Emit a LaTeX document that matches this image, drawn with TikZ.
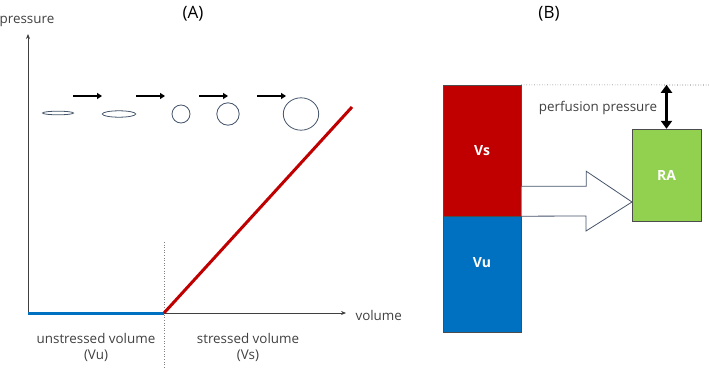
\documentclass[tikz,border=0pt]{standalone}
\usepackage{fontspec}
\setmainfont{Open Sans}
\usetikzlibrary{positioning, arrows.meta}
\definecolor{vsred}{HTML}{C00000}
\definecolor{vublue}{HTML}{0070C0}
\definecolor{ragreen}{HTML}{92D050}
\definecolor{slate}{HTML}{44546A}
\definecolor{textgray}{HTML}{404040}

\begin{document}
\begin{tikzpicture}[
  x=1pt, y=-1pt,
  font=\fontsize{13.4}{16}\selectfont, text=textgray,
  axis/.style={draw=textgray, line width=0.7pt, -{Stealth[length=5pt, width=4pt]}},
  vessel/.style={draw=slate, line width=0.8pt},
  flow/.style={-{Triangle[length=5pt, width=6pt]}, line width=1.7pt},
  curve/.style={draw=#1, line width=3pt},
  divider/.style={draw=gray, line width=0.6pt, dotted},
  block/.style={draw=gray!60!black, fill=#1, minimum width=78pt, inner sep=0pt,
                text=white, font=\fontsize{14}{16}\selectfont\bfseries},
  panel/.style={font=\fontsize{17}{20}\selectfont, text=black}
]
\useasboundingbox (0,0) rectangle (709,369);

% (A) pressure-volume relation
\node[panel] (titleA) at (193,14) {(A)};
\coordinate (origin) at (28,313);
\coordinate (knee) at (164,313);
\coordinate (ytop) at (28,34);
\coordinate (xend) at (346,313);
\coordinate (vend) at (352,107);
\draw[axis] (origin) -- (ytop);
\draw[axis] (origin) -- (xend);
\node[anchor=south] (plabel) at (27,30) {pressure};
\node[anchor=west] (vlabel) at (352,315) {volume};
\draw[divider] (164,242) -- (164,369);
\draw[curve=vublue] (origin) -- (knee);
\draw[curve=vsred] (knee) -- (vend);
\node[align=center] (unstressed) at (96,347) {unstressed volume\\(Vu)};
\node[align=center] (stressed) at (248,347) {stressed volume\\(Vs)};

% vessels filling up
\draw[vessel] (58,113) ellipse (15.5 and 1.8) coordinate (v1);
\draw[vessel] (119,114) ellipse (16.7 and 3.2) coordinate (v2);
\draw[vessel] (181,114) circle (9) coordinate (v3);
\draw[vessel] (228,114) circle (11.2) coordinate (v4);
\draw[vessel] (301,114) ellipse (17.7 and 16.2) coordinate (v5);
\foreach \xs in {73,136,199,257}
  \draw[flow] (\xs,96) -- ++(29,0);

% (B) reservoir model
\node[panel] (titleB) at (549,14) {(B)};
\node[block=vsred, minimum height=131pt] (Vs) at (482,150.5) {Vs};
\node[block=vublue, minimum height=116pt, below=0pt of Vs,
      label={[text=white, font=\fontsize{14}{16}\selectfont\bfseries, yshift=12pt]center:Vu}] (Vu) {};
\node[block=ragreen, minimum width=69pt, minimum height=92pt] (RA) at (666.5,175) {RA};
\coordinate (level) at (709,85);
\coordinate (tip) at (632,202);
\draw[divider, draw=black!70] (Vs.north east) -- (level);
\draw[{Triangle[length=8pt, width=11pt]}-{Triangle[length=8pt, width=11pt]}, line width=2.6pt]
  (RA.north |- Vs.north) -- (RA.north);
\node (perfusion) at (598,108) {perfusion pressure};
\draw[vessel, fill=white] (Vs.south east) -- ++(0,-30) -- ++(65,0) -- ++(0,-15)
  -- (tip) -- ++(-46,29) -- ++(0,-15) -- (Vs.south east);
\end{tikzpicture}
\end{document}
